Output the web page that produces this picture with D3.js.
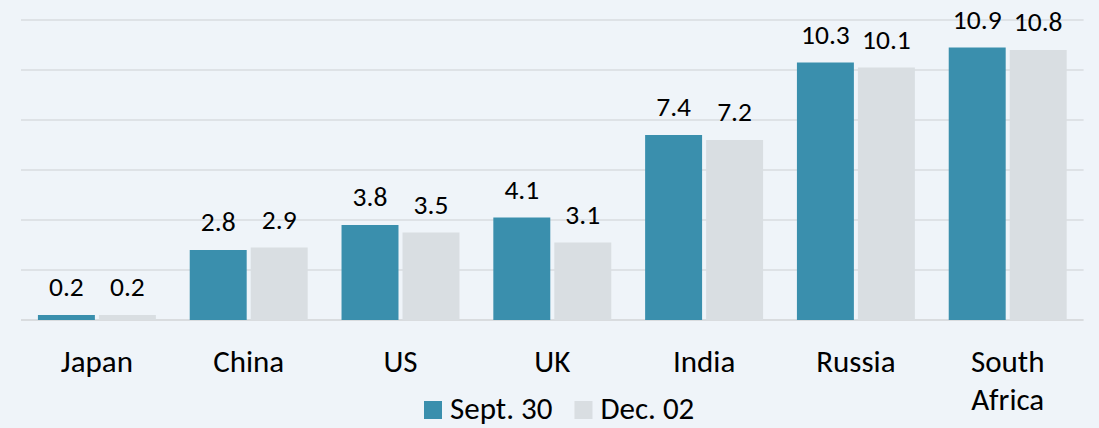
<!DOCTYPE html>
<html>
<head>
<meta charset="utf-8">
<script src="https://cdn.jsdelivr.net/npm/d3@7"></script>
<style>
  body { margin: 0; background: #eff4f9; }
  svg { display: block; font-family: Carlito, Calibri, "Open Sans", sans-serif; }
  .grid line { stroke: #d9dcdf; stroke-width: 1.5; }
  .value { font-size: 27.5px; fill: #000; text-anchor: middle; }
  .cat { font-size: 31px; fill: #000; text-anchor: middle; }
  .legend text { font-size: 31px; fill: #000; }
</style>
</head>
<body>
<svg width="1099" height="428" viewBox="0 0 1099 428"></svg>
<script>
const countries = ["Japan", "China", "US", "UK", "India", "Russia", "South Africa"];
const seriesNames = ["Sept. 30", "Dec. 02"];
const sept30 = [0.2, 2.8, 3.8, 4.1, 7.4, 10.3, 10.9];
const dec02 = [0.2, 2.9, 3.5, 3.1, 7.2, 10.1, 10.8];
const yTicks = [0, 2, 4, 6, 8, 10, 12];
const colors = ["#3a8fad", "#d9dee2"];

let svg = d3.select("svg");
let plot = { left: 21, right: 1083.6, top: 20, bottom: 320 };

let x0 = d3.scaleBand()
  .domain(countries)
  .range([plot.left, plot.right])
  .paddingInner(0.223)
  .paddingOuter(0.1115);

let x1 = d3.scaleBand()
  .domain(seriesNames)
  .range([0, x0.bandwidth()])
  .paddingInner(0.066);

let y = d3.scaleLinear().domain([0, 12]).range([plot.bottom, plot.top]);

// gridlines
svg.append("g")
  .attr("class", "grid")
  .selectAll("line")
  .data(yTicks)
  .enter()
  .append("line")
  .attr("x1", plot.left)
  .attr("x2", plot.right)
  .attr("y1", (d) => y(d))
  .attr("y2", (d) => y(d))
  .style("stroke-width", (d) => (d === 0 ? 2 : 1.5));

let rows = countries.map((c, i) => ({
  country: c,
  values: [
    { name: seriesNames[0], value: sept30[i] },
    { name: seriesNames[1], value: dec02[i] },
  ],
}));

let groups = svg.append("g")
  .selectAll("g")
  .data(rows)
  .enter()
  .append("g")
  .attr("transform", (d) => `translate(${x0(d.country)},0)`);

groups.selectAll("rect")
  .data((d) => d.values)
  .enter()
  .append("rect")
  .attr("x", (d) => x1(d.name))
  .attr("width", x1.bandwidth())
  .attr("y", (d) => y(d.value))
  .attr("height", (d) => y(0) - y(d.value))
  .attr("fill", (d, i) => colors[i]);

groups.selectAll(".value")
  .data((d) => d.values)
  .enter()
  .append("text")
  .attr("class", "value")
  .attr("x", (d) => x1(d.name) + x1.bandwidth() / 2)
  .attr("y", (d) => y(d.value) - 19)
  .text((d) => d.value.toFixed(1));

// category labels, wrapping two-word names
let cats = svg.append("g")
  .selectAll("text")
  .data(countries)
  .enter()
  .append("text")
  .attr("class", "cat")
  .attr("x", (d) => x0(d) + x0.bandwidth() / 2)
  .attr("y", 372);

cats.each(function (d) {
  let words = d.split(" ");
  let t = d3.select(this);
  let cx = x0(d) + x0.bandwidth() / 2;
  words.forEach((w, i) => {
    t.append("tspan").attr("x", cx).attr("dy", i === 0 ? 0 : 38).text(w);
  });
});

// legend
let legend = svg.append("g").attr("class", "legend");
let lx = 424;
seriesNames.forEach((name, i) => {
  legend.append("rect")
    .attr("x", lx)
    .attr("y", 401)
    .attr("width", 18)
    .attr("height", 18)
    .attr("fill", colors[i]);
  let t = legend.append("text")
    .attr("x", lx + 26)
    .attr("y", 419)
    .text(name);
  lx += 26 + t.node().getComputedTextLength() + 22;
});
</script>
</body>
</html>
